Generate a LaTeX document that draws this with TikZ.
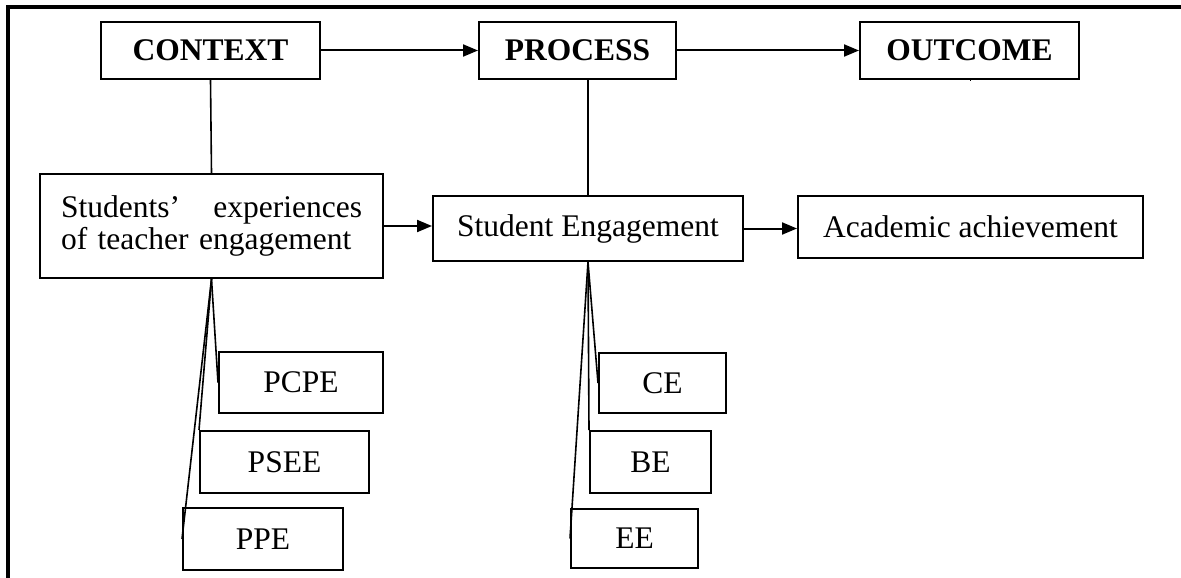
\documentclass[tikz,border=0pt]{standalone}
\usepackage{fontspec}
\setmainfont{Liberation Serif}
\usetikzlibrary{arrows.meta,calc}
\begin{document}
\begin{tikzpicture}[x=1pt,y=-1pt,
  box/.style={draw,line width=2pt,inner sep=0pt,font=\fontsize{31.5}{32}\selectfont},
  head/.style={box,font=\fontsize{31.5}{32}\selectfont\bfseries},
  flow/.style={line width=2pt,-{Triangle[length=15pt,width=12pt]}},
  link/.style={line width=1.6pt},
]
\useasboundingbox (0,0) rectangle (1181,578);
% open frame: left and top sides only
\draw[line width=4pt] (8,578) -- (8,7) -- (1181,7);

% top row
\node[head,minimum width=219pt,minimum height=57pt] (ctx) at (210.5,50.5) {CONTEXT};
\node[head,minimum width=197pt,minimum height=57pt] (prc) at (577.5,50.5) {PROCESS};
\node[head,minimum width=219pt,minimum height=57pt] (out) at (969.5,50.5) {OUTCOME};

% middle row
\node[box,minimum width=343pt,minimum height=104pt,text width=301pt,align=left] (stu) at (211.5,226)
  {\hbox to 301pt{Students’\hfill experiences}\\of teacher engagement};
\node[box,minimum width=310pt,minimum height=65pt] (se) at (588,228.5) {Student Engagement};
\node[box,minimum width=345pt,minimum height=62pt] (ach) at (970.5,227) {Academic achievement};

% dimensions of teacher engagement
\node[box,minimum width=164pt,minimum height=61pt] (pcpe) at (301,382.5) {PCPE};
\node[box,minimum width=169pt,minimum height=62pt] (psee) at (284.5,462) {PSEE};
\node[box,minimum width=160pt,minimum height=62pt] (ppe) at (263,539) {PPE};

% dimensions of student engagement
\node[box,minimum width=127pt,minimum height=60pt] (ce) at (662.5,383) {CE};
\node[box,minimum width=121pt,minimum height=62pt] (be) at (650.5,462) {BE};
\node[box,minimum width=127pt,minimum height=59pt] (ee) at (634.5,538.5) {EE};

% horizontal flow
\draw[flow] (ctx.east) -- (prc.west);
\draw[flow] (prc.east) -- (out.west);
\draw[flow] (stu.east) -- (stu.east -| se.west);
\draw[flow] (se.east) -- (se.east -| ach.west);

% vertical links
\draw[link] (ctx.south) -- (stu.north);
\draw[link] (se.north |- prc.south) -- (se.north);
\draw[link] (out.south) -- (out.south -| ach.north);

% fans
\draw[link] (stu.south) -- (pcpe.west);
\draw[link] (stu.south) -- (psee.north west);
\draw[link] (stu.south) -- (ppe.west);
\draw[link] (se.south) -- (ce.west);
\draw[link] (se.south) -- (be.north west);
\draw[link] (se.south) -- (ee.west);
\end{tikzpicture}
\end{document}
